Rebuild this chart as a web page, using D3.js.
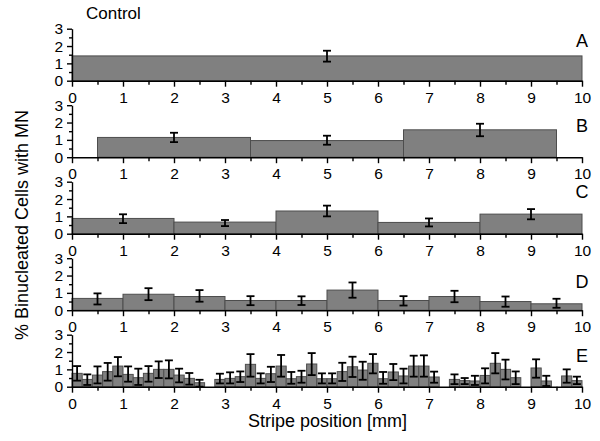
<!DOCTYPE html>
<html><head><meta charset="utf-8">
<script src="https://cdn.jsdelivr.net/npm/d3@7"></script>
<style>html,body{margin:0;padding:0;background:#fff;}svg{display:block;font-family:"Liberation Sans",Arial,sans-serif;}</style>
</head><body>
<script>
// ---- data ----
const xTicks = [0,1,2,3,4,5,6,7,8,9,10];
const yTicks = [0,1,2,3];
const panelLabels = ["A","B","C","D","E"];
const title = "Control";

// Panel A
const aEdges = [0,10];
const aMean  = [1.43];
const aLo    = [1.10];
const aHi    = [1.73];
// Panel B
const bEdges = [0.5,3.5,6.5,9.5];
const bMean  = [1.14,0.96,1.58];
const bLo    = [0.87,0.72,1.21];
const bHi    = [1.41,1.24,1.93];
// Panel C
const cEdges = [0,2,4,6,8,10];
const cMean  = [0.88,0.67,1.31,0.65,1.13];
const cLo    = [0.61,0.44,1.00,0.42,0.83];
const cHi    = [1.12,0.79,1.62,0.88,1.42];
// Panel D
const dEdges = [0,1,2,3,4,5,6,7,8,9,10];
const dMean  = [0.68,0.92,0.79,0.56,0.56,1.16,0.56,0.79,0.50,0.37];
const dLo    = [0.33,0.58,0.49,0.29,0.30,0.72,0.27,0.46,0.20,0.14];
const dHi    = [0.97,1.27,1.16,0.81,0.80,1.60,0.81,1.12,0.79,0.66];
// Panel E (0.2 mm bins, null = empty bin)
const eEdges = d3.range(0, 10.0001, 0.2);
const eMean = [0.77,0.42,0.67,0.87,1.19, 0.71,0.52,0.77,1.00,1.00,
               0.67,0.48,0.23,null,0.42, 0.48,0.58,1.29,0.48,0.75,
               1.19,0.46,0.58,1.31,0.46, 0.46,0.87,1.15,0.96,1.35,
               0.46,0.85,0.62,1.19,1.19, 0.56,null,0.42,0.35,0.33,
               0.65,1.35,1.00,0.52,null, 1.08,0.33,null,0.62,0.35];
const eLo  = [0.35,0.10,0.19,0.35,0.60, 0.29,0.10,0.29,0.50,0.48,
              0.25,0.12,0.00,null,0.19, 0.19,0.27,0.58,0.19,0.27,
              0.58,0.17,0.23,0.67,0.19, 0.19,0.33,0.56,0.40,0.77,
              0.17,0.38,0.19,0.58,0.58, 0.23,null,0.15,0.15,0.10,
              0.19,0.77,0.42,0.15,null, 0.52,0.04,null,0.23,0.15];
const eHi  = [1.19,0.71,1.17,1.37,1.71, 1.17,1.04,1.19,1.46,1.52,
              1.04,0.79,0.40,null,0.75, 0.83,0.88,1.88,0.77,1.15,
              1.83,0.85,0.92,1.94,0.77, 0.77,1.38,1.73,1.44,1.88,
              0.85,1.31,1.04,1.79,1.81, 0.87,null,0.71,0.50,0.63,
              1.06,1.94,1.56,0.88,null, 1.58,0.63,null,1.00,0.58];

const panels = [
  {edges:aEdges, mean:aMean, lo:aLo, hi:aHi},
  {edges:bEdges, mean:bMean, lo:bLo, hi:bHi},
  {edges:cEdges, mean:cMean, lo:cLo, hi:cHi},
  {edges:dEdges, mean:dMean, lo:dLo, hi:dHi},
  {edges:eEdges, mean:eMean, lo:eLo, hi:eHi}
];

// ---- layout ----
const W = 600, H = 441;
const x0 = 72, x1 = 582;
const zeroY0 = 80.7, panelStep = 76.5, panelH = 52;
const labelOffsets = [-40.7, -31.7, -42.6, -29, -31.7];

const svg = d3.select("body").append("svg").attr("width", W).attr("height", H);
const x = d3.scaleLinear().domain([0,10]).range([x0, x1]);

panels.forEach((p, i) => {
  const zy = zeroY0 + i * panelStep;
  const y = d3.scaleLinear().domain([0,3]).range([zy, zy - panelH]);
  const g = svg.append("g");

  const bins = p.mean.map((m, j) => ({x0: p.edges[j], x1: p.edges[j+1], m, lo: p.lo[j], hi: p.hi[j]}))
                     .filter(d => d.m != null);

  g.selectAll("rect.bar").data(bins).join("rect")
    .attr("class","bar")
    .attr("x", d => x(d.x0)).attr("width", d => x(d.x1) - x(d.x0))
    .attr("y", d => y(d.m)).attr("height", d => y(0) - y(d.m))
    .attr("fill", "#808080").attr("stroke", "#4d4d4d").attr("stroke-width", 1);

  // error bars
  const cap = 4;
  const eb = g.selectAll("g.eb").data(bins).join("g").attr("class","eb")
    .attr("stroke", "#000").attr("stroke-width", 1.8);
  eb.append("line").attr("x1", d => x((d.x0+d.x1)/2)).attr("x2", d => x((d.x0+d.x1)/2))
    .attr("y1", d => y(d.lo)).attr("y2", d => y(d.hi));
  eb.append("line").attr("x1", d => x((d.x0+d.x1)/2) - cap).attr("x2", d => x((d.x0+d.x1)/2) + cap)
    .attr("y1", d => y(d.lo)).attr("y2", d => y(d.lo));
  eb.append("line").attr("x1", d => x((d.x0+d.x1)/2) - cap).attr("x2", d => x((d.x0+d.x1)/2) + cap)
    .attr("y1", d => y(d.hi)).attr("y2", d => y(d.hi));

  // x axis
  g.append("g").attr("transform", `translate(0,${zy})`)
    .call(d3.axisBottom(x).tickValues(xTicks).tickFormat(d3.format("d")).tickSize(6).tickPadding(5).tickSizeOuter(0));
  g.append("g").attr("transform", `translate(0,${zy})`)
    .call(d3.axisBottom(x).tickValues(xTicks.slice(0,-1).map(t => t + 0.5)).tickFormat("").tickSize(4).tickSizeOuter(0))
    .call(s => s.select(".domain").remove());
  // y axis
  g.append("g").attr("transform", `translate(${x0},0)`)
    .call(d3.axisLeft(y).tickValues(yTicks).tickFormat(d3.format("d")).tickSize(5).tickPadding(4).tickSizeOuter(0));
  g.append("g").attr("transform", `translate(${x0},0)`)
    .call(d3.axisLeft(y).tickValues(yTicks.slice(0,-1).map(t => t + 0.5)).tickFormat("").tickSize(3).tickSizeOuter(0))
    .call(s => s.select(".domain").remove());

  g.selectAll(".tick text").attr("font-size", 15.5).attr("fill", "#000")
    .attr("font-family", "'Liberation Sans', Arial, sans-serif");
  g.selectAll(".domain, .tick line").attr("stroke", "#000").attr("stroke-width", 1.4);

  g.append("text").attr("x", x(10)).attr("y", zy + labelOffsets[i] + 6.5)
    .attr("text-anchor", "middle").attr("font-size", 18).text(panelLabels[i]);
});

svg.append("text").attr("x", 86).attr("y", 19).attr("font-size", 17).text(title);

svg.append("text").attr("transform", "translate(28,225) rotate(-90)")
  .attr("text-anchor", "middle").attr("font-size", 18).text("% Binucleated Cells with MN");
svg.append("text").attr("x", 327.5).attr("y", 427)
  .attr("text-anchor", "middle").attr("font-size", 18).text("Stripe position [mm]");
</script>
</body></html>
